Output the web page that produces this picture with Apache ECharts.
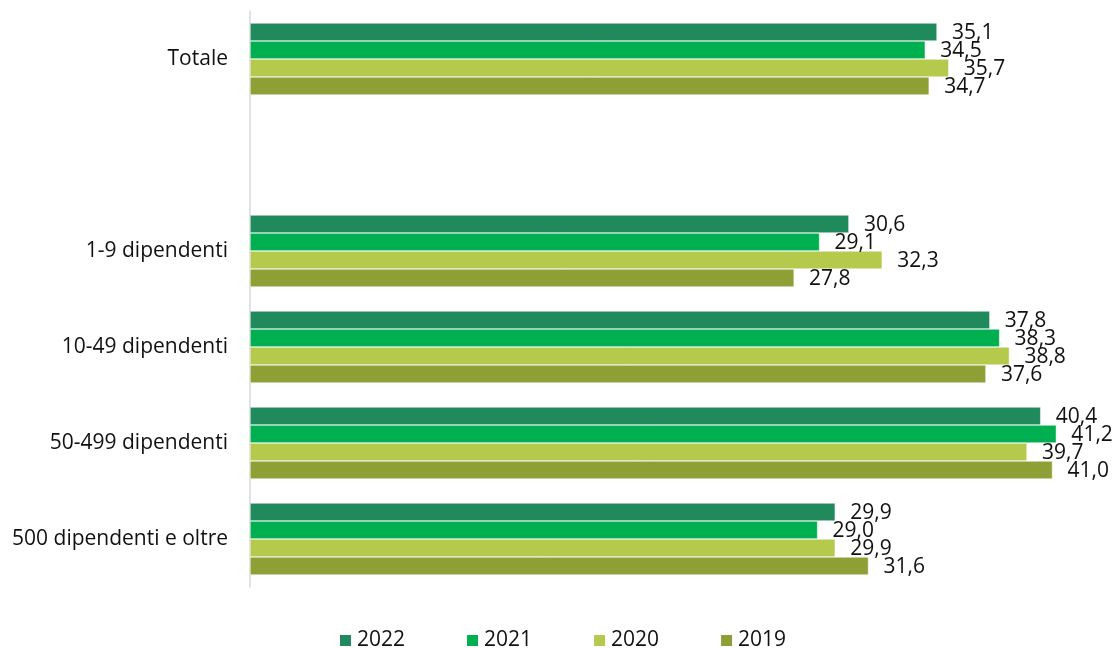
<!DOCTYPE html>
<html lang="it">
<head>
    <meta charset="UTF-8">
    <title>Dipendenti</title>
    <style>
        html,body{margin:0;padding:0;background:#fff;}
        #main{width:1119px;height:648px;}
    </style>
    <script src="https://cdn.jsdelivr.net/npm/echarts@6/dist/echarts.min.js"></script>
</head>
<body>
<div id="main"></div>
<script type="text/javascript">
    // categorie (dall'alto in basso), riga vuota tra Totale e le classi
    var categorie = ['Totale', '', '1-9 dipendenti', '10-49 dipendenti', '50-499 dipendenti', '500 dipendenti e oltre'];
    var anni = ['2022', '2021', '2020', '2019'];
    var v2022 = [35.1, null, 30.6, 37.8, 40.4, 29.9];
    var v2021 = [34.5, null, 29.1, 38.3, 41.2, 29.0];
    var v2020 = [35.7, null, 32.3, 38.8, 39.7, 29.9];
    var v2019 = [34.7, null, 27.8, 37.6, 41.0, 31.6];
    var colori = ['#218A5C', '#00B050', '#B5C94C', '#8EA035'];

    var font = '"Open Sans", sans-serif';
    var myChart = echarts.init(document.getElementById('main'));

    function serie(nome, dati, i) {
        return {
            name: nome,
            type: 'bar',
            data: dati,
            barGap: '0%',
            barCategoryGap: '25%',
            itemStyle: { color: colori[i], borderColor: '#fff', borderWidth: 0.5 },
            label: {
                show: true,
                position: 'right',
                distance: 15,
                offset: [0, 1],
                color: '#111',
                fontFamily: font,
                fontSize: 21,
                formatter: function (p) {
                    return p.value == null ? '' : p.value.toFixed(1).replace('.', ',');
                }
            },
            animation: false
        };
    }

    var option = {
        textStyle: { fontFamily: font },
        grid: { left: 250, right: 0, top: 11, height: 576 },
        legend: {
            data: anni,
            top: 625,
            left: 333,
            itemWidth: 13,
            itemHeight: 13,
            itemGap: 60,
            icon: 'rect',
            textStyle: { fontSize: 21, color: '#111', fontFamily: font }
        },
        xAxis: {
            type: 'value',
            min: 0,
            max: 44.4,
            show: false
        },
        yAxis: {
            type: 'category',
            data: categorie,
            inverse: true,
            axisLine: { show: true, lineStyle: { color: '#d9d9d9', width: 1.5 } },
            axisTick: { show: false },
            axisLabel: { color: '#111', fontSize: 21, margin: 22, fontFamily: font }
        },
        series: [
            serie(anni[0], v2022, 0),
            serie(anni[1], v2021, 1),
            serie(anni[2], v2020, 2),
            serie(anni[3], v2019, 3)
        ]
    };
    myChart.setOption(option);
</script>
</body>
</html>
